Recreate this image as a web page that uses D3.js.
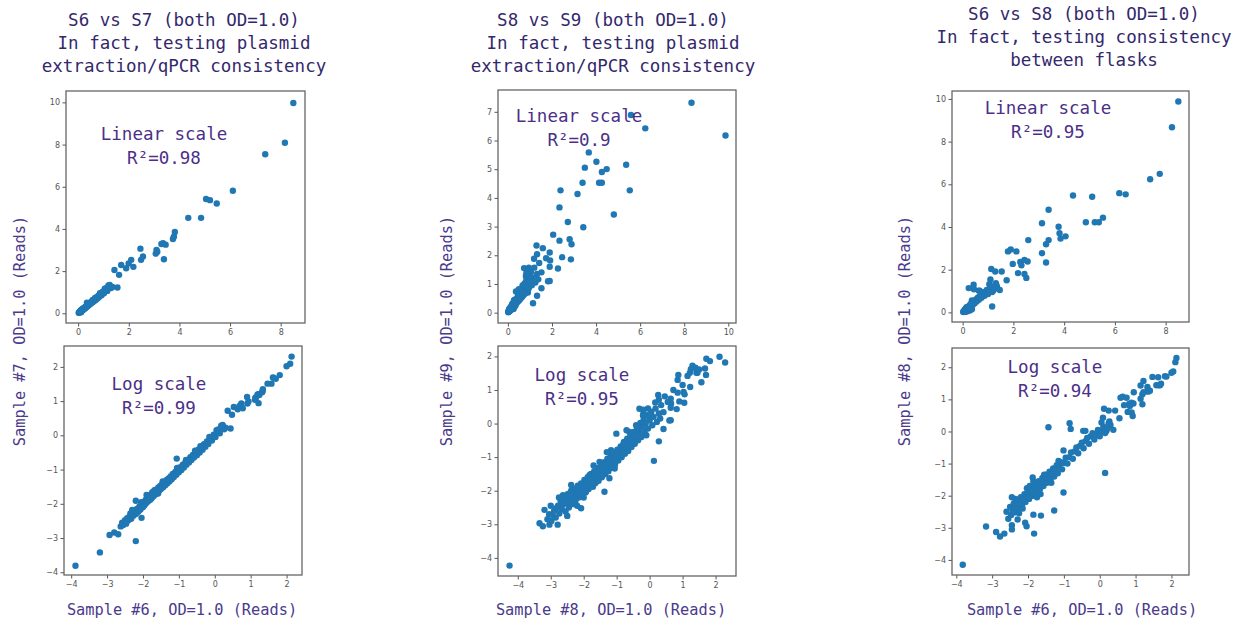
<!DOCTYPE html>
<html>
<head>
<meta charset="utf-8">
<script src="https://cdn.jsdelivr.net/npm/d3@7"></script>
<style>
  body { margin: 0; background: #fff; }
  svg text { font-family: "DejaVu Sans Mono", "Liberation Mono", monospace; }
  .tick text { font-family: "DejaVu Sans", sans-serif; font-size: 8px; fill: #555; }
  .tick line { stroke: #555; }
  .frame { fill: none; stroke: #666; stroke-width: 1.3; }
  .title { font-size: 17.5px; fill: #33286c; }
  .note { font-size: 17.5px; fill: #4b2f88; }
  .axlabel { font-size: 15.3px; fill: #4a3a8c; }
</style>
</head>
<body>
<svg id="chart" width="1243" height="621"></svg>
<script>
// natural-log reads, [sample on x, sample on y]; upper plots show the same reads unlogged
var s6_s7 = [
  [-3.88,-3.81],[-3.2,-3.42],[-2.93,-2.91],[-2.8,-2.84],[-2.69,-2.89],[-2.2,-3.09],[-2.2,-1.91],[-2.04,-2.41],[-1.06,-0.68],
  [-2.62,-2.66],[-2.58,-2.55],[-2.55,-2.62],[-2.5,-2.48],[-2.47,-2.58],[-2.44,-2.42],[-2.4,-2.47],[-2.37,-2.36],[-2.33,-2.44],
  [-2.3,-2.28],[-2.27,-2.35],[-2.24,-2.22],[-2.2,-2.3],[-2.17,-2.15],[-2.14,-2.24],[-2.1,-2.08],[-2.07,-2.17],[-2.04,-2.02],
  [-2.0,-2.1],[-1.97,-1.94],[-1.95,-2.03],[-1.92,-1.88],[-1.9,-1.97],[-1.87,-1.83],[-1.85,-1.92],[-1.82,-1.76],[-1.8,-1.88],
  [-1.77,-1.72],[-1.75,-1.82],[-1.72,-1.68],[-1.7,-1.77],[-1.67,-1.62],[-1.65,-1.72],[-1.62,-1.58],[-1.6,-1.67],[-1.57,-1.52],
  [-1.55,-1.62],[-1.52,-1.48],[-1.5,-1.57],[-1.47,-1.43],[-1.44,-1.52],[-1.41,-1.38],[-1.38,-1.46],[-1.35,-1.31],[-1.32,-1.4],
  [-1.29,-1.26],[-1.26,-1.34],[-1.23,-1.2],[-1.2,-1.28],[-1.17,-1.13],[-1.14,-1.22],[-1.1,-1.07],[-1.07,-1.15],[-1.03,-1.0],
  [-1.0,-1.08],[-0.96,-0.93],[-0.93,-1.01],[-0.89,-0.86],[-0.86,-0.94],[-0.82,-0.79],[-0.79,-0.86],[-0.75,-0.72],[-0.72,-0.79],
  [-0.68,-0.64],[-0.65,-0.72],[-0.61,-0.57],[-0.58,-0.65],[-0.54,-0.5],[-0.5,-0.58],[-0.46,-0.42],[-0.42,-0.5],[-0.38,-0.34],
  [-0.34,-0.42],[-0.3,-0.26],[-0.26,-0.33],[-0.22,-0.18],[-0.18,-0.25],[-0.13,-0.09],[-0.08,-0.15],[-0.03,0.02],[0.02,-0.05],
  [0.08,0.12],[0.14,0.06],[0.2,0.24],[0.26,0.18],[-2.05,-1.95],[-1.98,-2.06],[-1.88,-1.8],[-1.78,-1.85],[-1.68,-1.6],
  [-1.58,-1.7],[-1.9,-1.74],[-1.74,-1.66],[-2.12,-2.2],[-2.35,-2.28],[-2.45,-2.52],[-1.45,-1.35],[-1.25,-1.3],[-1.05,-0.95],
  [-0.8,-0.72],[-0.55,-0.45],[-0.4,-0.32],[-0.15,-0.05],[0.1,0.17],[0.3,0.22],[0.22,0.3],[-2.3,-2.18],[0.05,0.15],[0.18,0.28],
  [0.36,0.72],[0.44,0.2],[0.48,0.6],[0.53,0.83],[0.64,0.76],[0.69,0.86],[0.74,0.93],[0.78,0.79],[0.9,1.12],[0.91,0.93],
  [0.94,0.99],[1.12,1.04],[1.13,1.1],[1.14,1.07],[1.19,1.19],[1.21,1.2],[1.22,0.94],[1.24,1.18],[1.32,1.26],[1.33,1.29],
  [1.34,1.35],[1.47,1.51],[1.58,1.51],[1.62,1.69],[1.65,1.68],[1.7,1.65],[1.81,1.76],[2.0,2.02],[2.1,2.09],[2.14,2.3]
];

var s8_s9 = [
  [-4.25,-4.23],[-3.34,-2.97],[-3.24,-3.06],[-3.19,-2.57],[-3.04,-3.01],[-2.79,-3.01],[-2.94,-2.72],[-2.84,-2.52],[-2.68,-2.37],
  [-2.63,-2.13],[-2.43,-2.32],[-2.38,-1.83],[-2.23,-2.13],[-2.08,-2.52],[-2.03,-1.93],[-1.82,-1.53],[-1.62,-1.73],[-1.37,-2.03],
  [-1.52,-1.14],[-1.22,-1.63],[-1.01,-0.3],[-0.86,-0.94],[-0.71,-0.65],[-0.61,-0.25],[-0.31,0.44],[-0.2,0.24],[-0.1,-0.35],
  [-3.1,-2.85],[-3.05,-2.7],[-2.98,-2.9],[-2.9,-2.6],[-2.85,-2.8],[-2.78,-2.45],[-2.74,-2.68],[-2.7,-2.3],[-2.66,-2.55],
  [-2.62,-2.4],[-2.58,-2.2],[-2.55,-2.62],[-2.52,-2.35],[-2.48,-2.1],[-2.45,-2.5],[-2.42,-2.25],[-2.38,-2.0],[-2.35,-2.4],
  [-2.32,-2.15],[-2.28,-1.95],[-2.25,-2.3],[-2.22,-2.05],[-2.18,-1.85],[-2.15,-2.2],[-2.12,-1.98],[-2.08,-1.78],[-2.05,-2.12],
  [-2.02,-1.9],[-1.98,-1.68],[-1.95,-2.05],[-1.92,-1.8],[-1.88,-1.6],[-1.85,-1.95],[-1.82,-1.72],[-1.78,-1.5],[-1.75,-1.85],
  [-1.72,-1.62],[-1.68,-1.42],[-1.65,-1.78],[-1.62,-1.55],[-1.58,-1.32],[-1.55,-1.7],[-1.52,-1.45],[-1.48,-1.25],[-1.45,-1.6],
  [-1.42,-1.38],[-1.38,-1.15],[-1.35,-1.5],[-1.32,-1.28],[-1.28,-1.05],[-1.25,-1.42],[-1.22,-1.18],[-1.18,-0.95],[-1.15,-1.32],
  [-1.12,-1.08],[-1.08,-0.88],[-1.05,-1.22],[-1.02,-0.98],[-0.98,-0.78],[-0.95,-1.1],[-0.92,-0.88],[-0.88,-0.68],[-0.85,-1.0],
  [-0.82,-0.78],[-0.78,-0.55],[-0.75,-0.9],[-0.72,-0.68],[-0.68,-0.45],[-0.65,-0.82],[-0.62,-0.58],[-0.58,-0.35],[-0.55,-0.7],
  [-0.52,-0.48],[-0.48,-0.25],[-0.45,-0.6],[-0.42,-0.38],[-0.38,-0.12],[-0.35,-0.5],[-0.32,-0.25],[-0.28,0.02],[-0.25,-0.4],
  [-0.22,-0.12],[-0.18,0.12],[-0.15,-0.28],[-0.12,0.0],[-0.08,0.25],[-0.05,-0.15],[0.0,0.1],[0.05,0.35],[0.08,-0.05],
  [0.12,0.2],[0.18,0.45],[0.22,0.05],[0.28,0.3],[0.32,0.15],[-2.6,-2.28],[-2.4,-2.1],[-2.2,-1.92],[-2.0,-2.2],[-1.8,-1.62],
  [-1.6,-1.42],[-1.4,-1.25],[-1.2,-1.05],[-1.0,-0.85],[-0.8,-0.62],[-0.6,-0.45],[-0.4,-0.22],
  [-1.93,-2.03],[-1.72,-1.88],[-1.42,-1.53],[-1.06,-1.34],[-1.17,-0.79],[-0.81,-0.79],[-0.46,-0.35],[-0.41,-0.05],[0.0,0.24],
  [-0.05,0.45],[-2.5,-2.75],[-2.2,-2.45],[-1.7,-1.25],[-1.3,-0.85],[-0.7,-0.2],[-3.0,-2.45],[-2.75,-2.2],
  [2.12,1.99],[2.29,1.82],[1.83,1.86],[1.72,1.93],[1.3,1.72],[1.39,1.66],[1.5,1.61],[1.45,1.59],[1.42,1.51],[1.45,1.51],
  [1.25,1.62],[1.22,1.51],[1.15,1.42],[0.87,1.45],[0.85,1.3],[1.68,1.64],[1.71,1.45],[1.57,1.23],[1.0,1.15],[1.23,1.09],
  [0.72,1.0],[0.85,0.92],[1.03,0.94],[1.06,0.87],[0.9,0.66],[1.05,0.62],[0.82,0.43],[0.64,0.74],[0.65,0.6],[0.64,0.47],
  [0.64,0.1],[0.26,0.85],[0.46,0.81],[0.28,0.71],[0.17,0.63],[0.42,0.34],[0.28,-0.53],[0.13,-1.11],[0.42,-0.16],
  [-0.19,0.41],[-0.19,0.29],[0.35,0.55],[0.55,0.64],[0.6,0.09]
];

var s6_s8 = [
  [-3.82,-4.15],[-3.17,-2.96],[-2.89,-3.13],[-2.78,-3.27],[-2.66,-3.18],[-2.45,-3.05],[-2.45,-2.92],[-2.42,-2.4],[-2.29,-2.74],
  [-2.08,-2.84],[-2.04,-2.95],[-1.83,-3.18],[-1.85,-2.59],[-1.64,-2.62],[-1.27,-2.46],[-1.01,-1.9],[-1.87,-1.43],[-2.03,-1.77],
  [-1.01,-0.59],[-0.81,0.08],[-0.46,0.02],[-0.4,0.02],[0.19,0.02],[0.05,0.28],[0.27,0.31],
  [-2.6,-2.5],[-2.55,-2.72],[-2.5,-2.35],[-2.47,-2.6],[-2.43,-2.45],[-2.4,-2.25],[-2.37,-2.52],[-2.33,-2.35],[-2.3,-2.15],
  [-2.27,-2.42],[-2.23,-2.22],[-2.2,-2.05],[-2.17,-2.32],[-2.13,-2.12],[-2.1,-1.95],[-2.07,-2.2],[-2.03,-2.0],[-2.0,-1.85],
  [-1.97,-2.1],[-1.93,-1.92],[-1.9,-1.75],[-1.87,-2.0],[-1.83,-1.8],[-1.8,-1.65],[-1.77,-1.9],[-1.73,-1.7],[-1.7,-1.55],
  [-1.67,-1.8],[-1.63,-1.6],[-1.6,-1.45],[-1.57,-1.7],[-1.53,-1.5],[-1.5,-1.35],[-1.47,-1.6],[-1.43,-1.4],[-1.4,-1.25],
  [-1.37,-1.5],[-1.33,-1.3],[-1.3,-1.15],[-1.27,-1.4],[-1.23,-1.2],[-1.2,-1.05],[-1.17,-1.3],[-1.13,-1.1],[-1.1,-0.95],
  [-1.05,-1.18],[-1.0,-0.98],[-0.95,-0.82],[-0.9,-1.0],[-0.85,-0.8],[-0.8,-0.65],[-0.75,-0.85],[-0.7,-0.62],[-0.65,-0.5],
  [-0.6,-0.68],[-0.55,-0.45],[-0.5,-0.35],[-0.45,-0.52],[-0.4,-0.3],[-0.35,-0.2],[-0.3,-0.38],[-0.25,-0.15],[-0.2,-0.05],
  [-0.15,-0.25],[-0.1,-0.08],[-0.05,0.05],[0.0,-0.15],[0.05,0.02],[0.1,0.15],[0.15,-0.05],[0.22,0.1],[0.3,0.2],[0.38,0.05],
  [-2.35,-2.1],[-2.15,-2.4],[-1.95,-1.7],[-1.75,-2.05],[-1.55,-1.35],[-1.35,-1.6],[-1.15,-0.92],[-2.45,-2.05],[-2.25,-2.55],
  [-1.85,-1.55],[-1.65,-1.95],[-1.9,-1.82],[-2.2,-2.25],[-2.0,-2.05],[-1.8,-1.8],[-1.6,-1.6],[-1.45,-1.45],
  [2.14,2.29],[2.11,2.16],[2.0,1.83],[1.82,1.72],[1.71,1.49],[1.65,1.44],[1.58,1.44],[1.63,1.69],[1.47,1.7],[1.33,1.39],
  [1.34,1.31],[1.35,1.24],[1.22,1.57],[1.14,1.43],[1.22,1.22],[1.19,1.16],[1.14,1.02],[1.19,0.85],[0.95,1.22],[0.94,0.87],
  [0.89,0.9],[0.82,0.86],[0.78,0.61],[0.92,0.48],[0.75,1.05],[0.58,1.05],[0.68,0.82],[0.55,0.41],[0.43,0.65],[0.25,0.65],
  [0.12,0.71],[0.15,-1.29],[0.25,0.26],[0.09,0.43],[-0.84,0.26],[-1.43,0.13],[0.64,1.08],[0.84,0.79],[0.89,0.59],[1.4,1.27],
  [1.86,1.71],[2.05,1.87],[1.68,1.44]
];

var comparisonTitles = [
  ["S6 vs S7 (both OD=1.0)", "In fact, testing plasmid", "extraction/qPCR consistency"],
  ["S8 vs S9 (both OD=1.0)", "In fact, testing plasmid", "extraction/qPCR consistency"],
  ["S6 vs S8 (both OD=1.0)", "In fact, testing consistency", "between flasks"]
];
var xLabels = ["Sample #6, OD=1.0 (Reads)", "Sample #8, OD=1.0 (Reads)", "Sample #6, OD=1.0 (Reads)"];
var yLabels = ["Sample #7, OD=1.0 (Reads)", "Sample #9, OD=1.0 (Reads)", "Sample #8, OD=1.0 (Reads)"];
var linearR2 = ["R\u00b2=0.98", "R\u00b2=0.9", "R\u00b2=0.95"];
var logR2 = ["R\u00b2=0.99", "R\u00b2=0.95", "R\u00b2=0.94"];

var ticks0to8 = [0, 2, 4, 6, 8];
var ticks0to10 = [0, 2, 4, 6, 8, 10];
var ticks0to7 = [0, 1, 2, 3, 4, 5, 6, 7];
var logTicks = [-4, -3, -2, -1, 0, 1, 2];

var svg = d3.select('#chart');
var dot = '#1f77b4';

// layout of the six boxes (pixels) and their axis limits
var panels = [
  { data: s6_s7, lin: true,  box: [66, 305, 91, 323],   xd: [-0.48, 8.96], yd: [-0.46, 10.54], xt: ticks0to8,  yt: ticks0to10, note: ["Linear scale", linearR2[0]], at: [164, 140] },
  { data: s6_s7, lin: false, box: [64, 302, 346, 575],  xd: [-4.2, 2.43],  yd: [-4.08, 2.61],  xt: logTicks,   yt: logTicks,   note: ["Log scale", logR2[0]],       at: [159, 390] },
  { data: s8_s9, lin: true,  box: [498, 736, 90, 323],  xd: [-0.45, 10.35], yd: [-0.36, 7.76], xt: ticks0to10, yt: ticks0to7,  note: ["Linear scale", linearR2[1]], at: [579, 122] },
  { data: s8_s9, lin: false, box: [498, 736, 346, 576], xd: [-4.6, 2.62],  yd: [-4.54, 2.31],  xt: logTicks,   yt: logTicks,   note: ["Log scale", logR2[1]],       at: [582, 381] },
  { data: s6_s8, lin: true,  box: [952, 1189, 91, 322], xd: [-0.42, 8.92], yd: [-0.45, 10.37], xt: ticks0to8,  yt: ticks0to10, note: ["Linear scale", linearR2[2]], at: [1048, 114] },
  { data: s6_s8, lin: false, box: [952, 1189, 348, 575], xd: [-4.12, 2.49], yd: [-4.47, 2.6], xt: logTicks,   yt: logTicks,   note: ["Log scale", logR2[2]],       at: [1055, 373] }
];

var fmt = d3.format('d');

panels.forEach(function (p) {
  var b = p.box;
  var x = d3.scaleLinear().domain(p.xd).range([b[0], b[1]]);
  var y = d3.scaleLinear().domain(p.yd).range([b[3], b[2]]);
  var g = svg.append('g');

  var pts = p.lin ? p.data.map(function (d) { return [Math.exp(d[0]), Math.exp(d[1])]; }) : p.data;

  g.append('g')
    .attr('transform', 'translate(0,' + b[3] + ')')
    .call(d3.axisBottom(x).tickValues(p.xt).tickFormat(fmt).tickSize(3.5).tickPadding(2.5))
    .call(function (a) { a.select('.domain').remove(); });

  g.append('g')
    .attr('transform', 'translate(' + b[0] + ',0)')
    .call(d3.axisLeft(y).tickValues(p.yt).tickFormat(fmt).tickSize(3.5).tickPadding(2.5))
    .call(function (a) { a.select('.domain').remove(); });

  g.selectAll('circle')
    .data(pts)
    .enter()
    .append('circle')
    .attr('cx', function (d) { return x(d[0]); })
    .attr('cy', function (d) { return y(d[1]); })
    .attr('r', 3.2)
    .attr('fill', dot);

  g.append('rect')
    .attr('class', 'frame')
    .attr('x', b[0]).attr('y', b[2])
    .attr('width', b[1] - b[0]).attr('height', b[3] - b[2]);

  g.selectAll('.note')
    .data(p.note)
    .enter()
    .append('text')
    .attr('class', 'note')
    .attr('text-anchor', 'middle')
    .attr('x', p.at[0])
    .attr('y', function (d, i) { return p.at[1] + i * 24; })
    .text(function (d) { return d; });
});

// column titles and axis names
var colCenters = [184, 613, 1084];
var titleTops = [26, 26, 20];
var yLabelX = [20, 447, 905];

comparisonTitles.forEach(function (lines, c) {
  svg.append('g').selectAll('text')
    .data(lines)
    .enter()
    .append('text')
    .attr('class', 'title')
    .attr('text-anchor', 'middle')
    .attr('x', colCenters[c])
    .attr('y', function (d, i) { return titleTops[c] + i * 23; })
    .text(function (d) { return d; });

  svg.append('text')
    .attr('class', 'axlabel')
    .attr('text-anchor', 'middle')
    .attr('x', colCenters[c] - 2)
    .attr('y', 615)
    .text(xLabels[c]);

  svg.append('text')
    .attr('class', 'axlabel')
    .attr('text-anchor', 'middle')
    .attr('transform', 'translate(' + (yLabelX[c] + 5) + ',331) rotate(-90)')
    .text(yLabels[c]);
});
</script>
</body>
</html>
